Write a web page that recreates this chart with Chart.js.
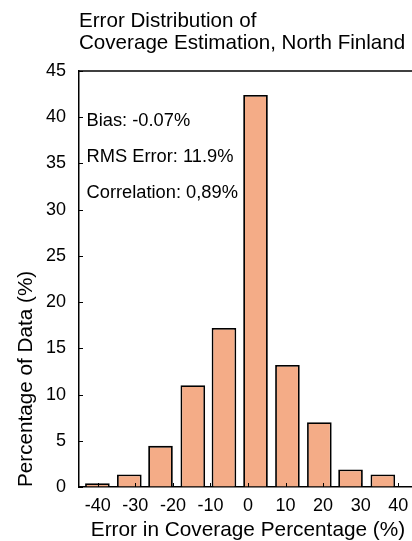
<!DOCTYPE html>
<html>
<head>
<meta charset="utf-8">
<script src="https://cdn.jsdelivr.net/npm/chart.js@4.4.0/dist/chart.umd.min.js"></script>
<style>
  html, body { margin: 0; padding: 0; background: #fff; overflow: hidden; width: 412px; height: 541px; }
  #wrap { position: relative; width: 420px; height: 541px; }
</style>
</head>
<body>
<div id="wrap"><canvas id="hist"></canvas></div>
<script>
// Histogram bins: centre of each error bin (%) and share of data in it (%)
const binCenters  = [-40.1, -31.6, -23.3, -14.7, -6.4, 2.0, 10.5, 19.0, 27.3, 35.9];
const percentages = [0.4, 1.35, 4.45, 11.0, 17.2, 42.4, 13.2, 7.0, 1.9, 1.35];

// Axis tick values
const xTickValues = [-40, -30, -20, -10, 0, 10, 20, 30, 40];
const yTickValues = [0, 5, 10, 15, 20, 25, 30, 35, 40, 45];

// Summary statistics printed inside the plot
const statLabels = ['Bias: -0.07%', 'RMS Error: 11.9%', 'Correlation: 0,89%'];

const FONT = '"Liberation Sans", Arial, Helvetica, sans-serif';

// Frame line on top, inward tick marks and the statistics text
const framePlugin = {
  id: 'frame',
  afterDatasetsDraw(chart) {
    const { ctx, chartArea: a, scales: { x, y } } = chart;
    ctx.save();
    ctx.strokeStyle = '#000';
    ctx.lineWidth = 1.5;
    ctx.beginPath();
    ctx.moveTo(a.left - 0.75, a.top);
    ctx.lineTo(a.right + 5, a.top);
    ctx.stroke();

    ctx.lineWidth = 1;
    ctx.beginPath();
    xTickValues.forEach(v => {
      const px = Math.round(x.getPixelForValue(v)) + 0.5;
      ctx.moveTo(px, a.bottom);
      ctx.lineTo(px, a.bottom - 4);
    });
    yTickValues.forEach(v => {
      const py = Math.round(y.getPixelForValue(v)) + 0.5;
      ctx.moveTo(a.left, py);
      ctx.lineTo(a.left + 4, py);
    });
    ctx.stroke();

    ctx.fillStyle = '#000';
    ctx.font = '18.3px ' + FONT;
    ctx.textAlign = 'left';
    ctx.textBaseline = 'alphabetic';
    const tx = x.getPixelForValue(-43);
    statLabels.forEach((t, i) => {
      ctx.fillText(t, tx, y.getPixelForValue(39.1 - i * 3.9));
    });
    ctx.restore();
  }
};

new Chart(document.getElementById('hist'), {
  type: 'bar',
  data: {
    datasets: [{
      data: binCenters.map((c, i) => ({ x: c, y: percentages[i] })),
      backgroundColor: '#F4AC87',
      borderColor: '#000',
      borderWidth: 1.8,
      barPercentage: 1,
      categoryPercentage: 0.79
    }]
  },
  options: {
    responsive: true,
    maintainAspectRatio: false,
    animation: false,
    layout: { padding: { left: 0, right: 3, top: 0, bottom: 0 } },
    plugins: {
      legend: { display: false },
      tooltip: { enabled: false },
      title: {
        display: true,
        fullSize: false,
        align: 'start',
        text: ['Error Distribution of', 'Coverage Estimation, North Finland'],
        color: '#000',
        font: { family: FONT, size: 20.6, weight: 'normal', lineHeight: 1.055 },
        padding: { top: 10.5, bottom: 17 }
      }
    },
    scales: {
      x: {
        type: 'linear',
        min: -45,
        max: 45,
        offset: false,
        afterBuildTicks: s => { s.ticks = xTickValues.map(v => ({ value: v })); },
        afterFit: s => { s.height = 54; },
        grid: { drawOnChartArea: false, drawTicks: false },
        border: { display: true, color: '#000', width: 1.5 },
        ticks: { color: '#000', font: { family: FONT, size: 18 }, padding: 8, maxRotation: 0, autoSkip: false },
        title: {
          display: true,
          text: 'Error in Coverage Percentage (%)',
          color: '#000',
          font: { family: FONT, size: 20.8, lineHeight: 1 },
          padding: { top: 0, bottom: 0 }
        }
      },
      y: {
        min: 0,
        max: 45,
        afterBuildTicks: s => { s.ticks = yTickValues.map(v => ({ value: v })); },
        afterFit: s => { s.width = 79; },
        grid: { drawOnChartArea: false, drawTicks: false },
        border: { display: true, color: '#000', width: 1.5 },
        ticks: { color: '#000', font: { family: FONT, size: 18 }, padding: 13, autoSkip: false },
        title: {
          display: true,
          align: 'start',
          text: 'Percentage of Data (%)',
          color: '#000',
          font: { family: FONT, size: 20.7, lineHeight: 1.2 },
          padding: { top: 14, bottom: 0 }
        }
      }
    }
  },
  plugins: [framePlugin]
});
</script>
</body>
</html>
